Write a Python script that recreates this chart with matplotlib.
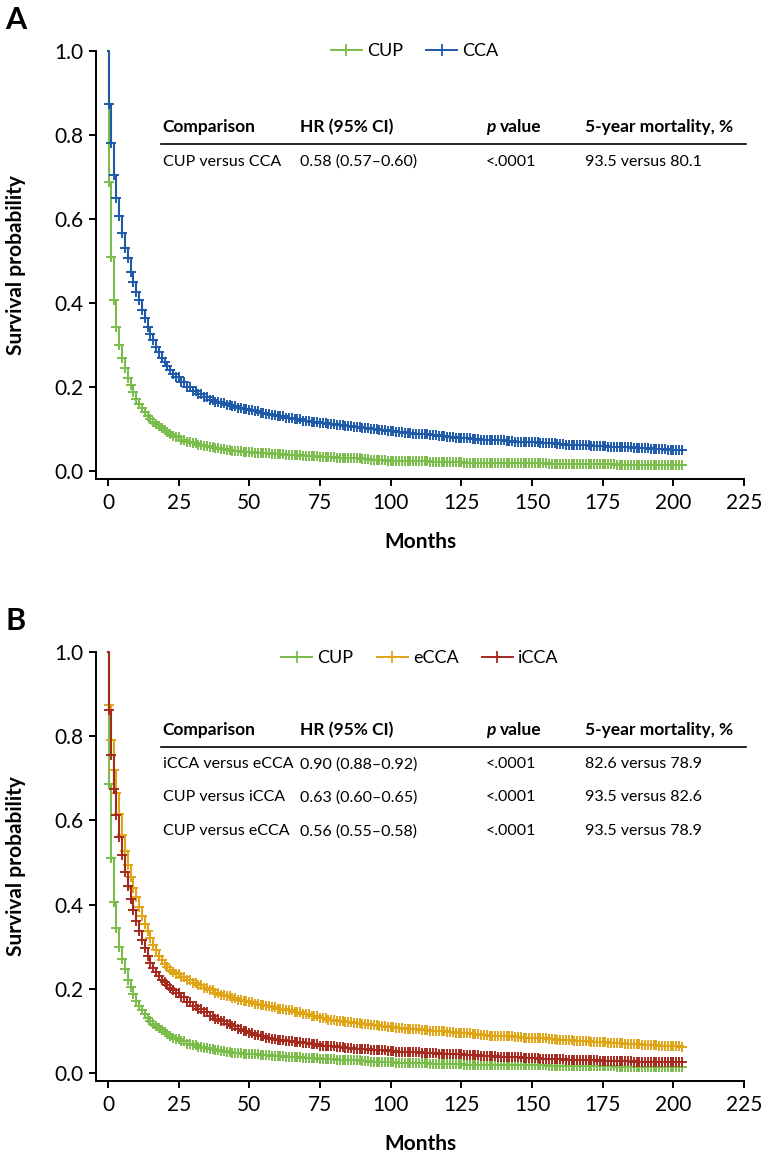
import numpy as np
import matplotlib
matplotlib.use("Agg")
import matplotlib.pyplot as plt
from matplotlib.lines import Line2D

plt.rcParams['font.family'] = ['Lato', 'DejaVu Sans']

months = ([0, 0.2] + list(range(1, 25)) + list(range(26, 61, 2))
          + list(range(63, 202, 3)) + [203])
# censoring ticks, roughly one per month up to the end of follow-up
censor_months = [0.2] + list(range(1, 204))

cup_surv = [1.0, 0.687,
            0.510, 0.406, 0.344, 0.300, 0.270, 0.246, 0.222, 0.205, 0.188, 0.172,
            0.160, 0.150, 0.140, 0.131, 0.123, 0.117, 0.111, 0.106, 0.102, 0.097,
            0.092, 0.088, 0.084, 0.080,
            0.075, 0.070, 0.066, 0.062, 0.059, 0.056, 0.054, 0.052, 0.050, 0.048,
            0.047, 0.046, 0.045, 0.044, 0.043, 0.042, 0.041, 0.040,
            0.039, 0.038, 0.036, 0.035, 0.034,
            0.033, 0.032, 0.031, 0.030, 0.029,
            0.027, 0.026, 0.025, 0.024, 0.024,
            0.023, 0.023, 0.022, 0.022, 0.021,
            0.021, 0.020, 0.020, 0.020, 0.019,
            0.019, 0.019, 0.018, 0.018, 0.018,
            0.018, 0.017, 0.017, 0.017, 0.017,
            0.016, 0.016, 0.016, 0.016, 0.015,
            0.015, 0.015, 0.015, 0.015, 0.014,
            0.014, 0.014,
            0.014]

cca_surv = [1.0, 0.874,
            0.780, 0.704, 0.649, 0.606, 0.566, 0.532, 0.506, 0.475, 0.451, 0.427,
            0.406, 0.384, 0.365, 0.344, 0.327, 0.311, 0.296, 0.283, 0.270, 0.259,
            0.249, 0.240, 0.231, 0.223,
            0.212, 0.201, 0.191, 0.183, 0.176, 0.170, 0.165, 0.161, 0.157, 0.154,
            0.151, 0.148, 0.145, 0.142, 0.139, 0.136, 0.133, 0.130,
            0.127, 0.123, 0.120, 0.117, 0.114,
            0.111, 0.109, 0.106, 0.104, 0.102,
            0.099, 0.097, 0.095, 0.093, 0.091,
            0.089, 0.087, 0.085, 0.083, 0.081,
            0.079, 0.078, 0.076, 0.075, 0.074,
            0.073, 0.071, 0.070, 0.069, 0.068,
            0.067, 0.066, 0.065, 0.063, 0.062,
            0.061, 0.060, 0.059, 0.058, 0.057,
            0.056, 0.055, 0.054, 0.053, 0.052,
            0.051, 0.050,
            0.050]

ecca_surv = [1.0, 0.874,
             0.790, 0.720, 0.665, 0.615, 0.565, 0.527, 0.495, 0.465, 0.440, 0.418,
             0.395, 0.374, 0.355, 0.337, 0.320, 0.305, 0.291, 0.279, 0.268, 0.258,
             0.251, 0.245, 0.240, 0.235,
             0.227, 0.220, 0.214, 0.208, 0.202, 0.196, 0.191, 0.186, 0.182, 0.178,
             0.174, 0.171, 0.168, 0.165, 0.162, 0.159, 0.156, 0.153,
             0.149, 0.144, 0.139, 0.135, 0.130,
             0.127, 0.124, 0.121, 0.118, 0.116,
             0.114, 0.112, 0.109, 0.107, 0.105,
             0.104, 0.102, 0.100, 0.099, 0.097,
             0.095, 0.094, 0.092, 0.091, 0.089,
             0.088, 0.087, 0.086, 0.084, 0.083,
             0.082, 0.081, 0.079, 0.078, 0.077,
             0.076, 0.074, 0.073, 0.072, 0.071,
             0.070, 0.068, 0.067, 0.066, 0.065,
             0.064, 0.063,
             0.062]

icca_surv = [1.0, 0.862,
             0.756, 0.675, 0.612, 0.560, 0.517, 0.477, 0.445, 0.414, 0.386, 0.362,
             0.338, 0.316, 0.296, 0.278, 0.262, 0.250, 0.240, 0.231, 0.222, 0.216,
             0.210, 0.203, 0.197, 0.191,
             0.180, 0.168, 0.159, 0.151, 0.144, 0.136, 0.129, 0.123, 0.117, 0.111,
             0.105, 0.099, 0.094, 0.090, 0.087, 0.084, 0.081, 0.078,
             0.076, 0.073, 0.071, 0.068, 0.065,
             0.063, 0.061, 0.060, 0.058, 0.057,
             0.055, 0.054, 0.052, 0.051, 0.050,
             0.049, 0.048, 0.047, 0.046, 0.045,
             0.044, 0.043, 0.042, 0.041, 0.040,
             0.039, 0.038, 0.037, 0.036, 0.035,
             0.034, 0.034, 0.033, 0.032, 0.031,
             0.031, 0.030, 0.029, 0.029, 0.028,
             0.028, 0.027, 0.026, 0.026, 0.025,
             0.025, 0.025,
             0.025]

table_header = ['Comparison', 'HR (95% CI)', 'p', '5-year mortality, %']
rows_a = [['CUP versus CCA', '0.58 (0.57\u20130.60)', '<.0001', '93.5 versus 80.1']]
rows_b = [['iCCA versus eCCA', '0.90 (0.88\u20130.92)', '<.0001', '82.6 versus 78.9'],
          ['CUP versus iCCA', '0.63 (0.60\u20130.65)', '<.0001', '93.5 versus 82.6'],
          ['CUP versus eCCA', '0.56 (0.55\u20130.58)', '<.0001', '93.5 versus 78.9']]

GREEN = '#7bbd4b'
BLUE = '#1f5aa8'
GOLD = '#e0a516'
RED = '#a52a1e'

W, H = 764, 1164
fig = plt.figure(figsize=(W / 100, H / 100), dpi=100)


def px_axes(left, top, right, bottom):
    return fig.add_axes([left / W, 1 - bottom / H, (right - left) / W, (bottom - top) / H])


def draw_panel(ax, curves, leg_x, leg_y, rows, header_y, line_y, row_ys):
    t = np.array(months)
    for lab, surv, col in curves:
        assert len(surv) == len(months)
        ax.plot(t, surv, drawstyle='steps-post', color=col, lw=1.5, clip_on=False)
        # censor ticks sit on the step curve
        idx = np.searchsorted(t, censor_months, side='right') - 1
        ax.plot(censor_months, np.array(surv)[idx], linestyle='none', color=col,
                marker='+', markersize=7, markeredgewidth=1.4, clip_on=False)

    ax.set_xlim(-4.24, 225)
    ax.set_ylim(-0.019, 1.0)
    ax.set_xticks(range(0, 226, 25))
    ax.set_yticks([0, 0.2, 0.4, 0.6, 0.8, 1.0])
    ax.set_yticklabels(['0.0', '0.2', '0.4', '0.6', '0.8', '1.0'])
    for s in ['top', 'right']:
        ax.spines[s].set_visible(False)
    for s in ['left', 'bottom']:
        ax.spines[s].set_linewidth(1.4)
    ax.tick_params(direction='out', length=5, width=1.4, labelsize=15)
    ax.tick_params(axis='x', pad=5)
    ax.tick_params(axis='y', pad=4)
    ax.set_xlabel('Months', fontsize=15, fontweight='bold')
    ax.set_ylabel('Survival probability', fontsize=15, fontweight='bold')
    ax.xaxis.set_label_coords(0.5, -0.124)
    ax.yaxis.set_label_coords(-0.108, 0.5)

    handles = [Line2D([], [], color=c, lw=1.4, marker='+', markersize=8,
                      markeredgewidth=1.3) for _, _, c in curves]
    ax.legend(handles, [c[0] for c in curves], loc='center',
              bbox_to_anchor=(leg_x, leg_y), ncol=len(curves), frameon=False,
              fontsize=13, handlelength=1.7, handletextpad=0.3,
              columnspacing=1.3, numpoints=1)

    # comparison table
    col_x = [0.103, 0.315, 0.602, 0.755]
    for i, h in enumerate(table_header):
        if h == 'p':
            ax.text(col_x[i], header_y, 'p', transform=ax.transAxes, fontsize=12.5,
                    fontweight='bold', style='italic', va='center', ha='left')
            ax.text(col_x[i] + 0.022, header_y, 'value', transform=ax.transAxes,
                    fontsize=12.5, fontweight='bold', va='center', ha='left')
        else:
            ax.text(col_x[i], header_y, h, transform=ax.transAxes, fontsize=12.5,
                    fontweight='bold', va='center', ha='left')
    ax.plot([0.100, 1.003], [line_y, line_y], transform=ax.transAxes,
            color='black', lw=1.2, clip_on=False)
    for row, ry in zip(rows, row_ys):
        for i, cell in enumerate(row):
            ax.text(col_x[i], ry, cell, transform=ax.transAxes, fontsize=11.5,
                    va='center', ha='left')


ax_a = px_axes(96, 51, 744, 479)
draw_panel(ax_a, [('CUP', cup_surv, GREEN), ('CCA', cca_surv, BLUE)],
           0.492, 1.0, rows_a, 0.822, 0.783, [0.741])

ax_b = px_axes(96, 652, 744, 1081)
draw_panel(ax_b, [('CUP', cup_surv, GREEN), ('eCCA', ecca_surv, GOLD),
                  ('iCCA', icca_surv, RED)],
           0.50, 0.986, rows_b, 0.818, 0.778, [0.738, 0.661, 0.582])

fig.text(16 / W, 1 - 20 / H, 'A', fontsize=22, fontweight='bold', ha='center', va='center')
fig.text(16 / W, 1 - 621 / H, 'B', fontsize=22, fontweight='bold', ha='center', va='center')

fig.savefig('out.png', dpi=100)
